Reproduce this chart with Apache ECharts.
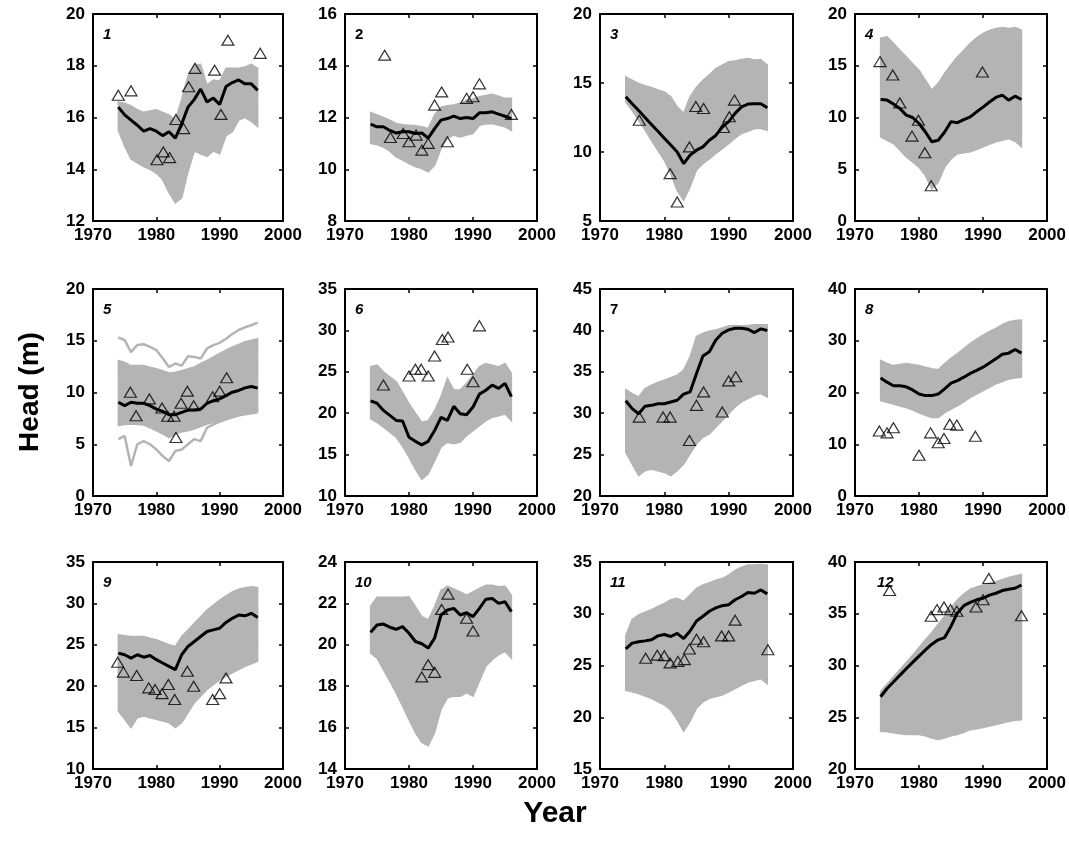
<!DOCTYPE html>
<html><head><meta charset="utf-8">
<script src="https://cdn.jsdelivr.net/npm/echarts@6/dist/echarts.min.js"></script>
<style>html,body{margin:0;padding:0;background:#fff}#c{width:1069px;height:845px}</style>
</head><body><div id="c"></div>
<script>
const years = [1974,1975,1976,1977,1978,1979,1980,1981,1982,1983,1984,1985,1986,1987,1988,1989,1990,1991,1992,1993,1994,1995,1996];
const xTicks = [1970,1980,1990,2000];
const panelLabels = ['1','2','3','4','5','6','7','8','9','10','11','12'];
const yMin = [12,8,5,0,0,10,20,0,10,14,15,20];
const yMax = [20,16,20,20,20,35,45,40,35,24,35,40];
const yStep = [2,2,5,5,5,5,5,10,5,2,5,5];

// Panel 1
const mean1 = [16.4,16.1,15.9,15.7,15.47,15.57,15.47,15.3,15.45,15.2,15.75,16.4,16.7,17.1,16.6,16.75,16.5,17.2,17.35,17.45,17.3,17.3,17.05];
const hi1 = [16.6,16.55,16.45,16.3,16.2,16.25,16.3,16.2,16.1,15.9,16.7,17.6,18.0,18.05,17.25,17.45,17.4,17.9,17.9,17.9,17.95,18.05,17.9];
const lo1 = [15.5,14.9,14.4,14.25,14.1,14.0,13.85,13.6,13.1,12.7,12.9,13.9,14.7,14.6,14.5,14.7,14.6,15.3,15.45,15.9,16.0,15.85,15.65];
const obs1x = [1974,1976,1980.1,1981.1,1982.1,1983.1,1984.3,1985.1,1986.1,1989.2,1990.2,1991.3,1996.4];
const obs1y = [16.86,17.03,14.37,14.67,14.45,15.92,15.57,17.19,17.9,17.83,16.12,18.99,18.48];
// Panel 2
const mean2 = [11.74,11.64,11.64,11.5,11.4,11.45,11.45,11.38,11.4,11.2,11.57,11.9,11.96,12.05,11.96,12.0,11.96,12.18,12.18,12.22,12.13,12.05,11.96];
const hi2 = [12.2,12.1,12.0,11.9,11.77,11.72,11.7,11.68,11.64,11.57,12.1,12.4,12.45,12.48,12.55,12.67,12.72,12.8,12.85,12.9,12.82,12.74,12.74];
const lo2 = [11.0,10.95,10.86,10.7,10.48,10.35,10.22,10.1,10.03,9.9,10.15,10.8,11.2,11.32,11.25,11.32,11.38,11.7,11.75,11.77,11.7,11.64,11.5];
const obs2x = [1976.2,1977.1,1979.1,1980,1981.1,1982,1983,1984,1985.1,1986,1989,1990,1991,1996];
const obs2y = [14.41,11.23,11.38,11.06,11.32,10.74,11.0,12.48,12.99,11.06,12.74,12.8,13.3,12.12];
// Panel 3
const mean3 = [14.0,13.5,13.0,12.5,12.0,11.5,11.0,10.5,10.0,9.16,9.77,10.13,10.37,10.85,11.2,11.8,12.2,12.8,13.27,13.47,13.5,13.5,13.2];
const hi3 = [15.45,15.2,14.97,14.8,14.68,14.5,14.36,14.0,13.27,12.8,14.0,14.7,15.2,15.6,16.05,16.3,16.54,16.6,16.7,16.78,16.66,16.7,16.3];
const lo3 = [13.64,13.0,12.3,11.6,10.85,10.1,9.4,8.43,7.2,6.5,7.47,8.7,9.16,9.5,9.9,10.25,10.6,11.0,11.34,11.5,11.7,11.7,11.58];
const obs3x = [1976.1,1980.9,1982,1983.9,1984.9,1986.1,1989.2,1990.1,1990.9];
const obs3y = [12.3,8.43,6.38,10.37,13.3,13.15,11.77,12.55,13.76];
// Panel 4
const mean4 = [11.74,11.68,11.3,10.87,10.23,10.0,9.42,8.6,7.65,7.8,8.6,9.6,9.5,9.8,10.06,10.55,11.0,11.5,11.94,12.16,11.68,12.06,11.74];
const hi4 = [17.65,17.8,17.16,16.5,15.87,15.2,14.58,13.6,12.65,13.3,14.26,15.1,15.87,16.5,17.16,17.7,18.13,18.4,18.6,18.7,18.6,18.7,18.45];
const lo4 = [8.13,7.8,7.48,6.85,6.2,5.7,5.2,4.4,3.1,3.77,5.2,6.0,6.5,6.6,6.7,6.9,7.16,7.4,7.65,7.8,7.97,7.7,7.16];
const obs4x = [1973.9,1975.9,1977,1979.9,1978.9,1980.9,1981.9,1989.9];
const obs4y = [15.4,14.1,11.4,9.74,8.2,6.6,3.4,14.4];
// Panel 5
const mean5 = [9.06,8.73,9.06,8.96,8.96,8.73,8.4,8.18,7.86,7.86,8.08,8.3,8.3,8.4,8.96,9.22,9.38,9.7,10.03,10.2,10.45,10.58,10.42];
const hi5 = [13.1,12.9,12.6,12.6,12.6,12.45,12.3,12.1,11.88,11.95,12.1,12.3,12.47,12.8,13.1,13.45,13.77,14.1,14.4,14.65,14.9,15.05,15.2];
const lo5 = [6.8,6.9,6.95,6.9,6.85,6.6,6.3,6.0,5.65,6.0,6.2,6.3,6.46,6.7,6.95,7.1,7.27,7.45,7.6,7.75,7.9,8.0,8.1];
const top5 = [15.32,15.06,13.9,14.6,14.67,14.4,14.1,13.3,12.47,12.8,12.6,13.5,13.44,13.28,14.25,14.58,14.8,15.2,15.65,16.04,16.3,16.5,16.75];
const bot5 = [5.49,5.8,2.9,5.0,5.3,5.0,4.5,3.86,3.38,4.35,4.5,5.0,5.5,5.3,6.6,6.9,7.2,7.4,7.6,7.8,7.9,8.0,8.1];
const obs5x = [1975.9,1976.8,1978.9,1980.9,1981.8,1982.8,1983.1,1983.9,1984.9,1985.9,1988.9,1990,1991.1];
const obs5y = [10.03,7.76,9.38,8.5,7.7,7.7,5.65,8.96,10.13,8.73,9.6,10.13,11.43];
// Panel 6
const mean6 = [21.48,21.2,20.34,19.74,19.13,19.05,17.1,16.6,16.17,16.6,17.9,19.5,19.13,20.83,19.94,19.82,20.75,22.3,22.77,23.4,23.0,23.6,22.0];
const hi6 = [25.6,25.8,25.0,24.4,23.8,22.5,21.15,20.0,18.9,19.1,20.3,22.0,24.2,22.8,22.8,23.6,24.6,25.6,26.0,25.8,25.6,26.0,24.8];
const lo6 = [19.33,18.9,18.3,17.7,17.1,16.0,14.7,13.26,12.0,12.65,14.27,15.9,16.5,16.3,16.5,17.3,17.9,18.5,19.1,19.5,19.7,19.9,19.1];
const obs6x = [1976,1980,1981,1981.9,1983,1984,1985.2,1986.1,1989.1,1990,1991];
const obs6y = [23.4,24.5,25.3,25.3,24.5,26.9,28.9,29.2,25.3,23.8,30.55];
// Panel 7
const mean7 = [31.5,30.55,29.94,30.83,30.95,31.15,31.15,31.36,31.56,32.3,32.57,34.8,36.9,37.43,38.85,39.66,40.06,40.26,40.26,40.14,39.74,40.18,39.98];
const hi7 = [32.85,32.37,31.96,32.97,33.38,33.7,34.0,34.3,34.6,35.2,36.8,39.25,39.66,39.9,40.06,40.3,40.55,40.6,40.55,40.6,40.67,40.67,40.67];
const lo7 = [25.28,23.87,22.45,23.05,23.26,23.05,22.85,22.45,23.05,23.87,25.1,26.3,27.1,27.5,28.3,29.13,29.94,30.75,31.36,31.76,32.17,32.37,31.96];
const obs7x = [1976.1,1979.8,1980.9,1983.9,1985,1986.1,1989,1990,1991.1];
const obs7y = [29.53,29.53,29.53,26.7,30.95,32.57,30.14,33.9,34.4];
// Panel 8
const mean8 = [22.8,22.0,21.3,21.3,21.1,20.5,19.7,19.4,19.4,19.7,20.7,21.8,22.3,22.96,23.7,24.26,24.9,25.7,26.5,27.4,27.6,28.3,27.6];
const hi8 = [26.2,25.6,25.2,25.4,25.6,25.4,25.2,24.9,24.6,24.4,25.6,26.6,27.5,28.5,29.5,30.3,31.1,31.8,32.4,33.1,33.7,33.9,34.0];
const lo8 = [18.4,18.1,17.76,17.4,17.1,16.6,16.1,15.6,15.15,15.15,16.1,16.8,17.4,18.2,19.05,19.7,20.36,21.0,21.66,22.1,22.6,22.8,22.96];
const obs8x = [1973.8,1975,1976,1980,1981.8,1983,1983.9,1984.8,1985.9,1988.8];
const obs8y = [12.55,12.2,13.2,7.87,12.2,10.3,11.1,13.85,13.7,11.56];
// Panel 9
const mean9 = [24.0,23.8,23.4,23.8,23.5,23.7,23.2,22.8,22.4,22.0,23.8,24.8,25.4,26.0,26.6,26.8,27.0,27.7,28.2,28.6,28.5,28.8,28.3];
const hi9 = [26.2,26.1,26.0,26.0,26.0,25.8,25.6,25.3,25.0,24.8,26.0,26.8,27.6,28.4,29.2,29.8,30.4,30.9,31.4,31.7,31.9,32.0,31.9];
const lo9 = [17.0,16.0,15.0,16.2,16.4,16.2,16.0,15.8,15.6,15.0,15.6,16.8,18.0,18.8,19.6,20.2,20.8,21.2,21.6,22.0,22.4,22.7,23.0];
const obs9x = [1973.9,1974.8,1976.9,1978.8,1979.8,1980.9,1981.9,1982.9,1984.9,1985.9,1988.9,1990,1991];
const obs9y = [22.9,21.7,21.3,19.8,19.6,19.1,20.2,18.4,21.8,20.0,18.4,19.1,21.0];
// Panel 10
const mean10 = [20.6,20.96,21.0,20.85,20.75,20.88,20.56,20.16,20.05,19.84,20.32,21.44,21.68,21.76,21.44,21.55,21.36,21.76,22.2,22.24,22.0,22.08,21.6];
const hi10 = [21.87,22.3,22.3,22.3,22.3,22.3,22.32,21.84,21.36,21.2,21.84,22.64,22.83,22.7,22.56,22.4,22.56,22.72,22.88,22.88,22.8,22.83,22.4];
const lo10 = [19.6,19.36,18.8,18.24,17.68,17.04,16.4,15.76,15.28,15.12,15.76,16.88,17.44,17.52,17.52,17.68,17.52,18.24,18.96,19.28,19.52,19.68,19.36];
const obs10x = [1982,1983,1984,1985.1,1986.1,1989,1990];
const obs10y = [18.45,19.04,18.67,21.71,22.45,21.28,20.67];
// Panel 11
const mean11 = [26.6,27.16,27.29,27.38,27.48,27.86,28.0,27.8,28.1,27.6,28.33,29.3,29.76,30.24,30.56,30.78,30.87,31.35,31.67,32.05,31.98,32.3,31.92];
const hi11 = [27.86,29.44,29.9,30.15,30.4,30.7,31.0,31.35,31.5,31.2,31.8,32.46,32.78,33.0,33.25,33.4,33.73,34.2,34.5,34.7,34.7,34.75,34.7];
const lo11 = [22.6,22.45,22.3,22.05,21.83,21.5,21.2,20.7,19.76,18.65,19.6,20.87,21.5,21.83,22.0,22.14,22.46,22.78,23.1,23.4,23.57,23.73,23.25];
const obs11x = [1977.1,1978.9,1980,1980.9,1982.1,1983.1,1983.9,1985,1986.1,1988.9,1990,1991,1996.1];
const obs11y = [25.7,26.0,25.95,25.25,25.4,25.57,26.6,27.54,27.29,27.86,27.86,29.38,26.52];
// Panel 12
const mean12 = [26.98,27.78,28.4,29.05,29.68,30.3,30.9,31.5,32.06,32.48,32.7,33.8,35.08,35.78,36.1,36.35,36.5,36.8,36.98,37.24,37.37,37.46,37.78];
const hi12 = [27.46,28.2,28.9,29.6,30.3,31.0,31.75,32.5,33.2,34.0,34.76,35.6,36.35,36.9,37.37,37.6,37.78,37.95,38.1,38.3,38.5,38.65,38.8];
const lo12 = [23.65,23.6,23.5,23.4,23.33,23.33,23.33,23.2,23.0,22.86,23.0,23.2,23.33,23.55,23.8,23.9,24.0,24.15,24.3,24.45,24.6,24.7,24.76];
const obs12x = [1975.4,1981.9,1982.8,1983.9,1984.9,1985.9,1988.9,1990,1990.9,1996];
const obs12y = [37.24,34.76,35.4,35.65,35.4,35.24,35.65,36.35,38.4,34.8];

const means = [mean1,mean2,mean3,mean4,mean5,mean6,mean7,mean8,mean9,mean10,mean11,mean12];
const his = [hi1,hi2,hi3,hi4,hi5,hi6,hi7,hi8,hi9,hi10,hi11,hi12];
const los = [lo1,lo2,lo3,lo4,lo5,lo6,lo7,lo8,lo9,lo10,lo11,lo12];
const obsX = [obs1x,obs2x,obs3x,obs4x,obs5x,obs6x,obs7x,obs8x,obs9x,obs10x,obs11x,obs12x];
const obsY = [obs1y,obs2y,obs3y,obs4y,obs5y,obs6y,obs7y,obs8y,obs9y,obs10y,obs11y,obs12y];
const extraLines = {4: [top5, bot5]};

// layout
const colLeft = [93, 345, 600, 855];
const colW = [190, 192, 193, 193];
const rowTop = [14, 289, 562];
const rowH = 207;
const FONT = '"Liberation Sans", Arial, sans-serif';
const GRAY = '#b4b4b4';
const uprightPanels = {1: true, 6: true};

const grids = [], xAxes = [], yAxes = [], series = [], graphics = [];
for (let i = 0; i < 12; i++) {
  const r = Math.floor(i / 4), c = i % 4;
  grids.push({left: colLeft[c], top: rowTop[r], width: colW[c], height: rowH, containLabel: false});
  const tick = {show: true, inside: true, length: 4, lineStyle: {color: '#000', width: 1.5}};
  const line = {show: true, onZero: false, lineStyle: {color: '#000', width: 2}};
  const xb = {type: 'value', gridIndex: i, min: xTicks[0], max: xTicks[xTicks.length - 1], interval: 10,
    splitLine: {show: false}, axisLine: line, axisTick: tick};
  xAxes.push(Object.assign({}, xb, {position: 'bottom',
    axisLabel: {show: true, color: '#000', fontFamily: FONT, fontWeight: 'bold', fontSize: 17, margin: 6,
      formatter: v => String(v)}}));
  xAxes.push(Object.assign({}, xb, {position: 'top', axisLabel: {show: false}}));
  const yb = {type: 'value', gridIndex: i, min: yMin[i], max: yMax[i], interval: yStep[i],
    splitLine: {show: false}, axisLine: line, axisTick: tick};
  yAxes.push(Object.assign({}, yb, {position: 'left',
    axisLabel: {show: true, color: '#000', fontFamily: FONT, fontWeight: 'bold', fontSize: 17, margin: 8,
      formatter: v => String(v)}}));
  yAxes.push(Object.assign({}, yb, {position: 'right', axisLabel: {show: false}}));

  const xi = i * 2, yi = i * 2;
  const lo = los[i], hi = his[i];
  series.push({type: 'custom', xAxisIndex: xi, yAxisIndex: yi, silent: true, z: 1,
    data: [[years[0], lo[0]]],
    renderItem: function (params, api) {
      const pts = [];
      for (let k = 0; k < years.length; k++) pts.push(api.coord([years[k], hi[k]]));
      for (let k = years.length - 1; k >= 0; k--) pts.push(api.coord([years[k], lo[k]]));
      return {type: 'polygon', shape: {points: pts}, style: {fill: GRAY, stroke: GRAY, lineWidth: 1.5}};
    }});
  (extraLines[i] || []).forEach(arr => {
    series.push({type: 'line', xAxisIndex: xi, yAxisIndex: yi, symbol: 'none', silent: true,
      data: years.map((y, k) => [y, arr[k]]), lineStyle: {color: GRAY, width: 2.5}, z: 1});
  });
  series.push({type: 'line', xAxisIndex: xi, yAxisIndex: yi, symbol: 'none', silent: true,
    data: years.map((y, k) => [y, means[i][k]]), lineStyle: {color: '#000', width: 3}, z: 3});
  series.push({type: 'scatter', xAxisIndex: xi, yAxisIndex: yi, silent: true,
    symbol: 'triangle', symbolSize: [12, 10],
    data: obsX[i].map((x, k) => [x, obsY[i][k]]),
    itemStyle: {color: 'rgba(0,0,0,0)', borderColor: '#000', borderWidth: 1.2}, z: 4});

  graphics.push({type: 'text', left: colLeft[c] + (i === 11 ? 22 : 10), top: rowTop[r] + 13,
    style: {text: panelLabels[i], fontFamily: FONT, fontWeight: 'bold',
      fontStyle: uprightPanels[i] ? 'normal' : 'italic', fontSize: 15, fill: '#000'}});
}
graphics.push({type: 'text', x: 30, y: 392, rotation: Math.PI / 2,
  style: {text: 'Head (m)', fontFamily: FONT, fontWeight: 'bold', fontSize: 28, fill: '#000', align: 'center', verticalAlign: 'middle'}});
graphics.push({type: 'text', x: 555, y: 814,
  style: {text: 'Year', fontFamily: FONT, fontWeight: 'bold', fontSize: 30, fill: '#000', align: 'center', verticalAlign: 'middle'}});

const chart = echarts.init(document.getElementById('c'), null, {renderer: 'canvas'});
chart.setOption({
  animation: false,
  backgroundColor: '#fff',
  grid: grids, xAxis: xAxes, yAxis: yAxes, series: series, graphic: graphics
});
</script>
</body></html>
